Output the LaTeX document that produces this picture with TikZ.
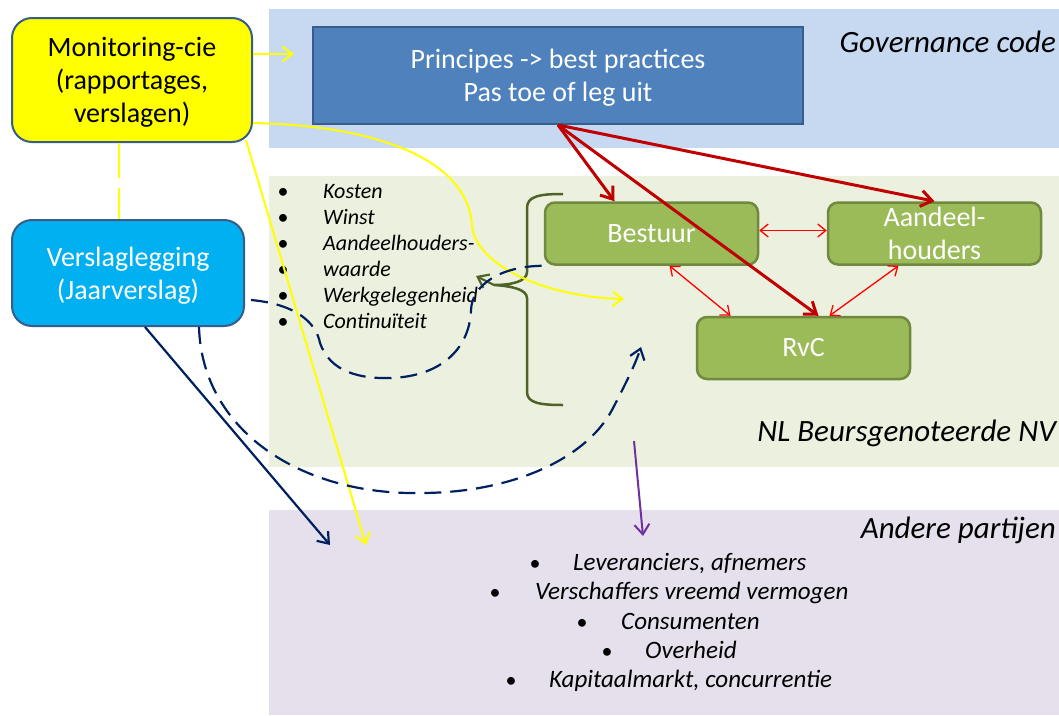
\documentclass[tikz,border=0pt]{standalone}
\usepackage{fontspec}
\setmainfont{Carlito}
\usetikzlibrary{arrows.meta}
\definecolor{govbg}{HTML}{C6D9F1}
\definecolor{nvbg}{HTML}{EBF1DE}
\definecolor{otherbg}{HTML}{E5E0EC}
\definecolor{boxblue}{HTML}{4F81BD}
\definecolor{boxborder}{HTML}{385D8A}
\definecolor{cyanbox}{HTML}{00B0F0}
\definecolor{olivebox}{HTML}{9BBB59}
\definecolor{oliveborder}{HTML}{71893F}
\definecolor{darkred}{HTML}{C00000}
\definecolor{brightred}{HTML}{FF0000}
\definecolor{navy}{HTML}{002060}
\definecolor{darkolive}{HTML}{4F6228}
\definecolor{purpl}{HTML}{7030A0}
\definecolor{yel}{HTML}{FFFF00}
\tikzset{
  bigtext/.style={font=\fontsize{28}{33}\selectfont, align=center, inner sep=0pt},
  labeltext/.style={font=\fontsize{31}{36}\selectfont\itshape, inner sep=0pt, anchor=base east},
  listtext/.style={font=\fontsize{22}{26}\selectfont\itshape, inner sep=0pt, anchor=base west},
  bullettext/.style={font=\fontsize{22}{26}\selectfont, inner sep=0pt, anchor=base},
  olisttext/.style={font=\fontsize{25}{29}\selectfont\itshape, inner sep=0pt, anchor=base west},
  monbox/.style={fill=yel, draw=boxborder, line width=2pt, rounded corners=20pt, minimum width=240pt, minimum height=124pt, inner sep=0pt},
  repbox/.style={fill=cyanbox, draw=boxborder, line width=2pt, rounded corners=20pt, minimum width=232pt, minimum height=106pt, inner sep=0pt},
  prbox/.style={fill=boxblue, draw=boxborder, line width=2pt, minimum width=490pt, minimum height=97pt, inner sep=0pt},
  orgbox/.style={bigtext, text=white, fill=olivebox, draw=oliveborder, line width=2.5pt, rounded corners=10pt, minimum width=213pt, minimum height=62pt},
  barb/.style={-{Straight Barb[length=10pt,width=15pt]}},
  yarrow/.style={barb, draw=yel, line width=2pt},
  redarrow/.style={-{Straight Barb[length=11pt,width=16pt]}, draw=darkred, line width=3pt},
  redboth/.style={{Straight Barb[length=8pt,width=13pt]}-{Straight Barb[length=8pt,width=13pt]}, draw=brightred, line width=1.3pt},
  navyline/.style={draw=navy, line width=2.2pt},
  navydash/.style={navyline, dash pattern=on 17pt off 9pt},
  bracestyle/.style={draw=darkolive, line width=2.5pt},
}
\begin{document}
\begin{tikzpicture}[x=1pt,y=-1pt]
\useasboundingbox (0,0) rectangle (1059,715);
% background bands
\fill[govbg] (269,9) rectangle (1059,148);
\fill[nvbg] (269,176) rectangle (1059,467);
\fill[otherbg] (269,510) rectangle (1059,715);

% main boxes
\node[monbox] (M) at (132,80) {};
\node[bigtext] (Mt) at ([yshift=-2pt]M.center) {Monitoring-cie\\(rapportages,\\verslagen)};
\node[repbox] (V) at (128,273) {};
\node[bigtext, text=white] (Vt) at ([yshift=-2.5pt]V.center) {Verslaglegging\\(Jaarverslag)};
\node[prbox] (P) at (558,75.5) {};
\node[bigtext, text=white] (Pt) at ([yshift=-2.5pt]P.center) {Principes -> best practices\\Pas toe of leg uit};
\node[orgbox] (B) at (651.5,233.5) {Bestuur};
\node[orgbox] (A) at (934.5,233.5) {Aandeel-\\houders};
\node[orgbox] (R) at (803.5,348) {RvC};

% band labels
\node[labeltext] (gov) at (1056,52) {Governance code};
\node[labeltext] (nv) at (1056,441) {NL Beursgenoteerde NV};
\node[labeltext] (oth) at (1056,538) {Andere partijen};

% left list
\node[bullettext] (lb1) at (283,198) {•};
\node[bullettext] (lb2) at (283,224) {•};
\node[bullettext] (lb3) at (283,250) {•};
\node[bullettext] (lb4) at (283,276) {•};
\node[bullettext] (lb5) at (283,302) {•};
\node[bullettext] (lb6) at (283,328) {•};
\node[listtext] (li1) at (323,198) {Kosten};
\node[listtext] (li2) at (323,224) {Winst};
\node[listtext] (li3) at (323,250) {Aandeelhouders-};
\node[listtext] (li4) at (323,276) {waarde};
\node[listtext] (li5) at (323,302) {Werkgelegenheid};
\node[listtext] (li6) at (323,328) {Continuïteit};

% bottom list
\node[bullettext] (ob1) at (535,570) {•};
\node[bullettext] (ob2) at (495,599) {•};
\node[bullettext] (ob3) at (582,629) {•};
\node[bullettext] (ob4) at (607,658) {•};
\node[bullettext] (ob5) at (511,687) {•};
\node[olisttext] (oi1) at (573,570) {Leveranciers, afnemers};
\node[olisttext] (oi2) at (535,599) {Verschaffers vreemd vermogen};
\node[olisttext] (oi3) at (621,629) {Consumenten};
\node[olisttext] (oi4) at (645,658) {Overheid};
\node[olisttext] (oi5) at (549,687) {Kapitaalmarkt, concurrentie};

% brace
\coordinate (bc) at (494,285);
\draw[bracestyle] (563,194) .. controls (540,194) and (527,196) .. (527,208) -- (527,272)
  .. controls (527,282) and (510,285) .. (bc)
  .. controls (510,286) and (527,289) .. (527,298) -- (527,392)
  .. controls (527,403) and (540,405) .. (563,405);
\coordinate (gtip) at (476,276);
\draw[barb, draw=darkolive, line width=2.2pt] (bc) -- (gtip);

% free-end coordinates
\coordinate (ytip1) at (294,54);
\coordinate (ytip2) at (624,299);
\coordinate (ytip3) at (366,545);
\coordinate (ntip1) at (330,545);
\coordinate (ntip2) at (641,347);
\coordinate (pstart) at (634,441);
\coordinate (ptip) at (643,536);

% yellow connectors
\draw[yarrow] ([yshift=26pt]M.east) -- (ytip1);
\draw[yarrow] ([yshift=-43pt]M.east) .. controls (390,126) and (468,165) .. (472,225)
  .. controls (475,265) and (545,297) .. (ytip2);
\draw[yarrow] ([xshift=-7pt,yshift=3pt]M.south east) -- (ytip3);
\draw[draw=yel, line width=2pt, dash pattern=on 35pt off 10pt] ([xshift=-13pt]M.south) -- ([xshift=-9pt]V.north);

% navy connectors
\draw[navyline, barb] ([xshift=17pt]V.south) -- (ntip1);
\draw[navydash, barb] ([xshift=71pt]V.south) .. controls (202,430) and (300,495) .. (420,493)
  .. controls (510,493) and (585,460) .. (612,410)
  .. controls (625,385) and (635,365) .. (ntip2);
\draw[navydash] ([xshift=6pt,yshift=-27pt]V.east) .. controls (295,304) and (316,322) .. (320,343)
  .. controls (330,372) and (360,379) .. (391,378)
  .. controls (445,376) and (470,345) .. (471,310)
  .. controls (472,285) and (500,266) .. (B.south west);

% purple
\draw[barb, draw=purpl, line width=2pt] (pstart) -- (ptip);

% red connectors
\draw[redarrow] (P.south) -- ([xshift=-37pt]B.north);
\draw[redarrow] (P.south) -- (A.north);
\draw[redarrow] (P.south) -- ([xshift=15pt]R.north);
\draw[redboth] ([yshift=3pt]B.east) -- ([yshift=3pt]A.west);
\draw[redboth] ([xshift=18pt]B.south) -- ([xshift=-73pt]R.north);
\draw[redboth] ([xshift=-36pt]A.south) -- ([xshift=26pt]R.north);
\end{tikzpicture}
\end{document}
